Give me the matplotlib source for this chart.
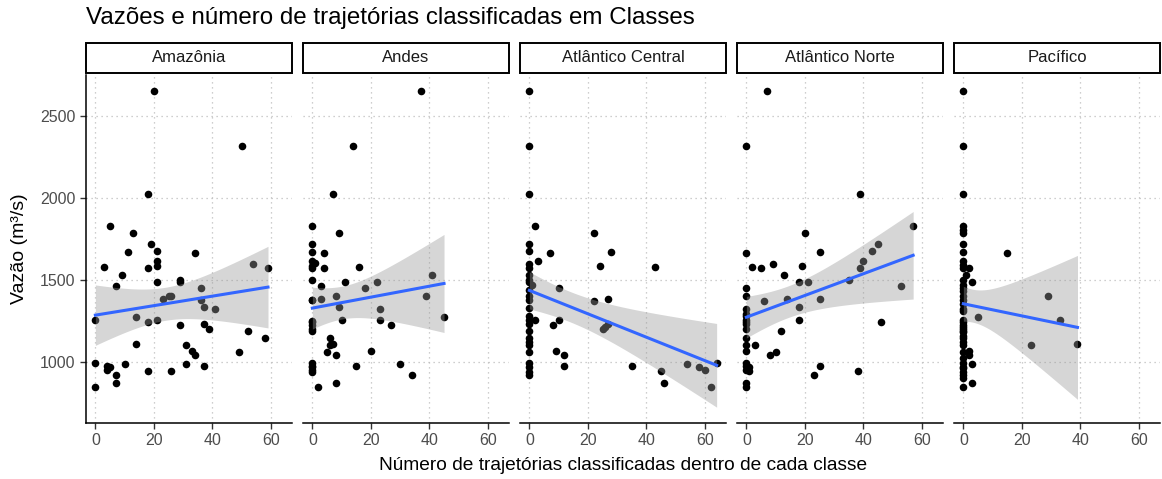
import numpy as np
import matplotlib
matplotlib.use("Agg")
import matplotlib.pyplot as plt
from matplotlib.patches import Rectangle

plt.rcParams['font.family'] = ['Liberation Sans', 'DejaVu Sans']

title = "Vazões e número de trajetórias classificadas em Classes"
xlabel = "Número de trajetórias classificadas dentro de cada classe"
ylabel = "Vazão (m³/s)"
classes = ["Amazônia", "Andes", "Atlântico Central", "Atlântico Norte", "Pacífico"]

amazonia_x = [20, 50, 18, 5, 13, 19, 11, 21, 34, 21, 21, 3, 18, 54, 59, 9, 7, 21, 29, 29, 36, 23, 25, 26, 36, 37,
              41, 0, 14, 18, 21, 29, 37, 39, 52, 58, 14, 31, 33, 34, 49, 0, 10, 4, 5, 4, 7, 18, 26, 31, 37, 7, 0]
amazonia_y = [2656, 2319, 2024, 1827, 1789, 1720, 1671, 1675, 1665, 1618, 1585, 1579, 1571, 1600, 1571, 1528, 1461,
              1486, 1498, 1490, 1453, 1386, 1400, 1402, 1380, 1335, 1325, 1258, 1276, 1242, 1258, 1224, 1228, 1203,
              1189, 1142, 1106, 1100, 1067, 1043, 1057, 992, 988, 976, 965, 949, 921, 945, 941, 986, 976, 870, 843]

andes_x = [37, 14, 7, 0, 9, 0, 0, 4, 0, 1, 0, 0, 4, 16, 0, 11, 3, 18, 22, 41, 8, 0, 3, 39, 9, 23, 45, 0, 0, 0, 0,
           10, 23, 27, 6, 6, 7, 5, 8, 20, 0, 0, 0, 0, 0, 15, 30, 34, 8, 2, 0, 0]
andes_y = [2656, 2319, 2024, 1827, 1789, 1720, 1671, 1665, 1618, 1604, 1585, 1571, 1571, 1579, 1498, 1486, 1461,
           1453, 1486, 1528, 1402, 1380, 1386, 1400, 1335, 1325, 1276, 1242, 1224, 1203, 1189, 1258, 1258, 1224,
           1142, 1100, 1106, 1057, 1043, 1067, 992, 976, 965, 949, 937, 976, 986, 921, 870, 843, 1375, 1250]

central_x = [0, 0, 0, 2, 22, 0, 0, 7, 28, 3, 0, 0, 24, 43, 0, 0, 1, 10, 0, 0, 22, 27, 0, 0, 0, 2, 10, 0, 27, 26,
             25, 8, 0, 0, 0, 0, 0, 9, 12, 0, 0, 0, 0, 12, 35, 45, 46, 54, 58, 60, 64, 62, 0, 0]
central_y = [2656, 2319, 2024, 1827, 1789, 1720, 1675, 1665, 1671, 1618, 1600, 1571, 1583, 1579, 1528, 1498, 1467,
             1453, 1400, 1380, 1370, 1384, 1329, 1278, 1258, 1258, 1258, 1228, 1228, 1215, 1203, 1224, 1189, 1148,
             1122, 1100, 1057, 1067, 1043, 992, 965, 937, 921, 974, 976, 945, 870, 986, 965, 949, 992, 843, 1440, 1485]

norte_x = [7, 0, 39, 57, 20, 0, 25, 45, 43, 40, 39, 2, 5, 9, 19, 13, 18, 21, 35, 53, 0, 0, 6, 14, 25, 18, 0, 0, 0,
           0, 0, 18, 46, 12, 0, 0, 3, 0, 10, 8, 0, 0, 1, 0, 1, 25, 23, 38, 0, 0, 0, 0]
norte_y = [2656, 2319, 2024, 1827, 1789, 1665, 1671, 1720, 1675, 1618, 1571, 1579, 1571, 1600, 1583, 1528, 1486,
           1486, 1498, 1461, 1453, 1400, 1370, 1386, 1386, 1335, 1323, 1278, 1258, 1228, 1203, 1258, 1242, 1189,
           1142, 1100, 1100, 1067, 1057, 1043, 992, 976, 965, 949, 941, 976, 921, 941, 870, 843, 1290, 1240]

pacifico_x = [0, 0, 0, 0, 0, 0, 0, 0, 15, 0, 0, 0, 2, 1, 0, 3, 0, 0, 0, 0, 0, 29, 5, 33, 0, 0, 0, 0, 0, 0, 23, 39,
              0, 2, 2, 0, 3, 0, 0, 0, 3, 0, 0, 0, 0, 0, 0, 0, 0, 0, 0, 0, 0]
pacifico_y = [2656, 2319, 2024, 1827, 1807, 1787, 1720, 1671, 1665, 1618, 1589, 1571, 1571, 1528, 1498, 1486, 1453,
              1400, 1380, 1352, 1323, 1402, 1276, 1258, 1258, 1242, 1224, 1203, 1189, 1142, 1100, 1106, 1057, 1067,
              1043, 992, 986, 965, 937, 921, 870, 843, 1470, 1430, 1310, 1160, 1180, 1210, 1100, 1020, 960, 900,
              1120]

xs_all = [amazonia_x, andes_x, central_x, norte_x, pacifico_x]
ys_all = [amazonia_y, andes_y, central_y, norte_y, pacifico_y]
x_ticks = [0, 20, 40, 60]
y_ticks = [1000, 1500, 2000, 2500]


def t975(df):
    # Cornish-Fisher approximation of the 0.975 Student-t quantile
    z = 1.959964
    g1 = (z**3 + z) / 4
    g2 = (5 * z**5 + 16 * z**3 + 3 * z) / 96
    g3 = (3 * z**7 + 19 * z**5 + 17 * z**3 - 15 * z) / 384
    return z + g1 / df + g2 / df**2 + g3 / df**3


def lm_fit(x, y):
    x = np.asarray(x, float)
    y = np.asarray(y, float)
    n = len(x)
    xm = x.mean()
    sxx = ((x - xm) ** 2).sum()
    b = ((x - xm) * (y - y.mean())).sum() / sxx
    a = y.mean() - b * xm
    resid = y - (a + b * x)
    s = np.sqrt((resid ** 2).sum() / (n - 2))
    xg = np.linspace(x.min(), x.max(), 80)
    yg = a + b * xg
    se = s * np.sqrt(1 / n + (xg - xm) ** 2 / sxx)
    t = t975(n - 2)
    return xg, yg, yg - t * se, yg + t * se


fits = [lm_fit(x, y) for x, y in zip(xs_all, ys_all)]

ymin = min(min(min(y) for y in ys_all), min(f[2].min() for f in fits))
ymax = max(max(max(y) for y in ys_all), max(f[3].max() for f in fits))
yr = ymax - ymin
xmin = min(min(x) for x in xs_all)
xmax = max(max(x) for x in xs_all)
xr = xmax - xmin

W, H = 1162, 479
fig = plt.figure(figsize=(W / 100, H / 100), dpi=100)
left, right = 86 / W, 1160 / W
bottom, top = 1 - 423 / H, 1 - 75 / H
gap = 11 / W
pw = (right - left - 4 * gap) / 5

for i, name in enumerate(classes):
    ax = fig.add_axes([left + i * (pw + gap), bottom, pw, top - bottom])
    ax.set_facecolor('white')
    x, y = xs_all[i], ys_all[i]
    xg, yg, lo, hi = fits[i]
    ax.scatter(x, y, s=30, color='black', linewidths=0, zorder=3)
    ax.fill_between(xg, lo, hi, color='#999999', alpha=0.4, linewidth=0, zorder=4)
    ax.plot(xg, yg, color='#3366FF', linewidth=2.2, zorder=5)
    ax.set_xlim(xmin - 0.05 * xr, xmax + 0.05 * xr)
    ax.set_ylim(ymin - 0.05 * yr, ymax + 0.05 * yr)
    ax.set_xticks(x_ticks)
    ax.set_yticks(y_ticks)
    ax.grid(True, color='#BEBEBE', linestyle=(0, (1, 3)), linewidth=0.9, zorder=0)
    ax.set_axisbelow(True)
    for sp in ['top', 'right']:
        ax.spines[sp].set_visible(False)
    ax.spines['bottom'].set_linewidth(1.1)
    ax.spines['bottom'].set_color('black')
    ax.tick_params(axis='both', colors='#333333', labelcolor='#4D4D4D', labelsize=11.5, length=4, width=1)
    if i == 0:
        ax.spines['left'].set_linewidth(1.1)
        ax.spines['left'].set_color('black')
    else:
        ax.spines['left'].set_visible(False)
        ax.tick_params(axis='y', left=False, labelleft=False)
    # strip
    sh = 30 / H / (top - bottom)
    sg = 2 / H / (top - bottom)
    rect = Rectangle((0, 1 + sg), 1, sh, transform=ax.transAxes, facecolor='white',
                     edgecolor='black', linewidth=1.4, clip_on=False, zorder=10)
    ax.add_patch(rect)
    ax.text(0.5, 1 + sg + sh / 2, name, transform=ax.transAxes, ha='center', va='center',
            fontsize=12, color='#1A1A1A', zorder=11)

fig.text(left, 1 - 18 / H, title, fontsize=17.4, ha='left', va='center', color='black')
fig.text((left + right) / 2, 1 - 465 / H, xlabel, fontsize=13.8, ha='center', va='center', color='black')
fig.text(20 / W, (top + bottom) / 2, ylabel, fontsize=14, rotation=90, ha='center', va='center', color='black')

fig.savefig('out.png', dpi=100, facecolor='white')
